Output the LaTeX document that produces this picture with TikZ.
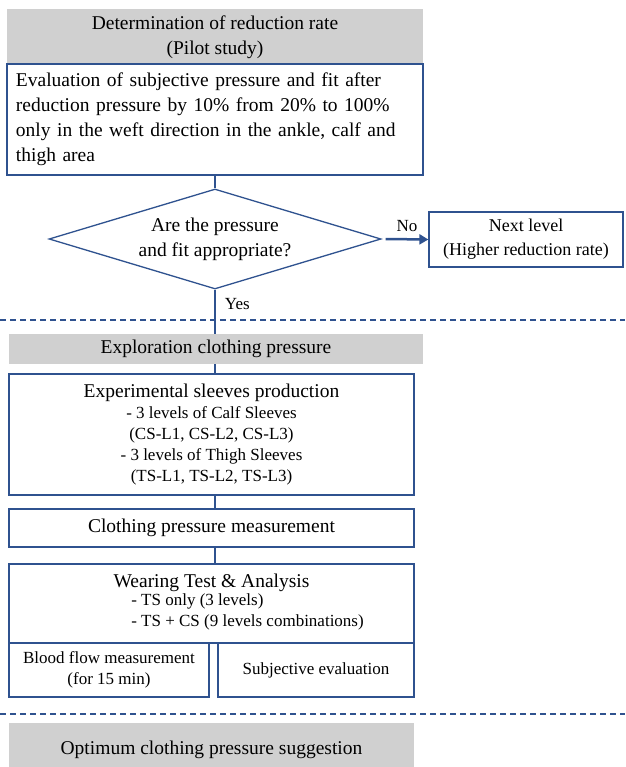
\documentclass[tikz,border=0pt]{standalone}
\usepackage{fontspec}
\setmainfont{Liberation Serif}
\usepackage{xcolor}
\usetikzlibrary{shapes.geometric,arrows.meta,positioning}
\definecolor{lineblue}{RGB}{47,82,143}
\definecolor{boxgray}{RGB}{208,208,208}
\newcommand{\bigtxt}{\fontsize{19.5}{25}\selectfont}
\newcommand{\smalltxt}{\fontsize{17}{21}\selectfont}
\begin{document}
\begin{tikzpicture}[x=1pt,y=-1pt,
    graybox/.style={fill=boxgray, inner sep=0pt, font=\bigtxt, align=center},
    bluebox/.style={draw=lineblue, line width=1.3pt, fill=white, inner sep=0pt, align=center},
    decision/.style={diamond, draw=lineblue, line width=1.3pt, inner sep=0pt, aspect=3.32,
      minimum width=332pt, minimum height=100pt, font=\bigtxt, align=center},
    link/.style={draw=lineblue, line width=1.3pt},
    separator/.style={draw=lineblue, line width=1.5pt, dash pattern=on 6pt off 4pt}]
  \useasboundingbox (0,0) rectangle (625,767);

  % pilot study
  \node [graybox, minimum width=416pt, minimum height=55pt] (pilot) at (215,37)
    {Determination of reduction rate\\(Pilot study)};
  \node [bluebox, minimum width=416pt, minimum height=111pt, text width=398pt,
    align=left, font=\bigtxt] (evaluation) at (215,119.5)
    {Evaluation of subjective pressure and fit after\\
     reduction pressure by 10\% from 20\% to 100\%\\
     only in the weft direction in the ankle, calf and\\
     thigh area};
  \node [decision] (check) at (215,239) {Are the pressure\\and fit appropriate?};
  \node [bluebox, minimum width=194pt, minimum height=55pt, font=\fontsize{18}{24}\selectfont] (nextlevel) at (526,239.5)
    {Next level\\(Higher reduction rate)};

  % exploration
  \node [graybox, minimum width=414pt, minimum height=30pt] (exploration) at (216,349)
    {Exploration clothing pressure};
  \node [bluebox, minimum width=405pt, minimum height=121pt, font=\smalltxt] (production) at (211.5,434.5)
    {{\bigtxt Experimental sleeves production}\\
     - 3 levels of Calf Sleeves\\
     (CS-L1, CS-L2, CS-L3)\\
     - 3 levels of Thigh Sleeves\\
     (TS-L1, TS-L2, TS-L3)};
  \node [bluebox, minimum width=405pt, minimum height=38pt, font=\bigtxt] (measurement) at (211.5,528)
    {Clothing pressure measurement};
  \node [bluebox, minimum width=405pt, minimum height=79pt, font=\bigtxt] (wearing) at (211.5,603.5)
    {Wearing Test \& Analysis\\[-2pt]
     \hspace*{72pt}{\smalltxt\begin{tabular}{@{}l@{}}
       - TS only (3 levels)\\
       - TS + CS (9 levels combinations)
     \end{tabular}}};
  \node [bluebox, minimum width=200pt, minimum height=54pt, font=\smalltxt] (bloodflow) at (109,670)
    {Blood flow measurement\\(for 15 min)};
  \node [bluebox, minimum width=196pt, minimum height=54pt, font=\smalltxt] (subjective) at (316,670)
    {Subjective evaluation};

  % suggestion
  \node [graybox, minimum width=405pt, minimum height=54pt] (optimum) at (211.5,750)
    {Optimum clothing pressure suggestion};

  % connectors
  \draw [link] (evaluation.south -| check) -- (check.north);
  \draw [link] (check.south) -- node [pos=0.33, right, xshift=6pt, font=\smalltxt] {Yes} (exploration.north -| check);
  \draw [link, line width=2.5pt, -{Triangle[length=9pt,width=10pt]}] (check.east) ++(4,0) coordinate (noout)
    (noout) -- node [above, yshift=3pt, font=\smalltxt] {No} (nextlevel.west);
  \draw [link] (exploration.south -| check) -- (production.north -| check);
  \draw [link] (production.south -| check) -- (measurement.north -| check);
  \draw [link] (measurement.south -| check) -- (wearing.north -| check);

  % phase separators
  \draw [separator] (0,320) -- (625,320);
  \draw [separator] (0,714) -- (625,714);
\end{tikzpicture}
\end{document}
